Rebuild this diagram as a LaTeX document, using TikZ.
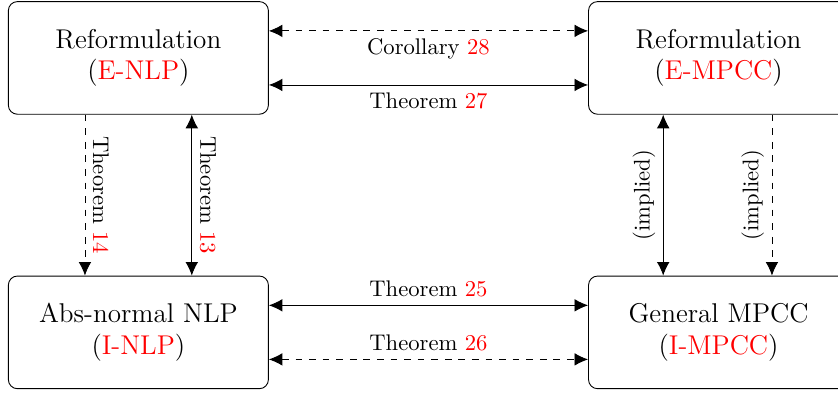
\documentclass[tikz,border=0pt]{standalone}
\usepackage{xcolor}
\usetikzlibrary{positioning,arrows.meta}

\tikzset{
	probbox/.style={draw, rounded corners, minimum width=4.04cm, minimum height=1.75cm, align=center, font=\large},
	relarrow/.style={{Latex[length=6pt,width=5.6pt]}-{Latex[length=6pt,width=5.6pt]}},
	onearrow/.style={-{Latex[length=6pt,width=5.6pt]}},
}

\begin{document}
\begin{tikzpicture}
			\useasboundingbox (-2.15,0.9) rectangle (10.87,-5.2);

			% the four problem formulations
			\node[probbox] (ENLP) at (0,0) {Reformulation\\(\textcolor{red}{E-NLP})};
			\node[probbox, right=4.96cm of ENLP] (EMPCC) {Reformulation\\(\textcolor{red}{E-MPCC})};
			\node[probbox, below=2.5cm of ENLP] (INLP) {Abs-normal NLP\\(\textcolor{red}{I-NLP})};
			\node[probbox, below=2.5cm of EMPCC] (IMPCC) {General MPCC\\(\textcolor{red}{I-MPCC})};

			% horizontal relations
			\draw[relarrow, dashed] ([yshift=0.42cm]ENLP.east) -- node[below] {Corollary \textcolor{red}{28}} ([yshift=0.42cm]EMPCC.west);
			\draw[relarrow] ([yshift=-0.42cm]ENLP.east) -- node[below] {Theorem \textcolor{red}{27}} ([yshift=-0.42cm]EMPCC.west);
			\draw[relarrow] ([yshift=0.42cm]INLP.east) -- node[above] {Theorem \textcolor{red}{25}} ([yshift=0.42cm]IMPCC.west);
			\draw[relarrow, dashed] ([yshift=-0.42cm]INLP.east) -- node[above] {Theorem \textcolor{red}{26}} ([yshift=-0.42cm]IMPCC.west);

			% vertical relations
			\draw[onearrow, dashed] ([xshift=-0.83cm]ENLP.south) -- node[rotate=-90, anchor=south] {Theorem \textcolor{red}{14}} ([xshift=-0.83cm]INLP.north);
			\draw[relarrow] ([xshift=0.83cm]ENLP.south) -- node[rotate=-90, anchor=south] {Theorem \textcolor{red}{13}} ([xshift=0.83cm]INLP.north);
			\draw[relarrow] ([xshift=-0.86cm]EMPCC.south) -- node[rotate=90, anchor=south] {(implied)} ([xshift=-0.86cm]IMPCC.north);
			\draw[onearrow, dashed] ([xshift=0.83cm]EMPCC.south) -- node[rotate=90, anchor=south] {(implied)} ([xshift=0.83cm]IMPCC.north);

		\end{tikzpicture}
\end{document}
